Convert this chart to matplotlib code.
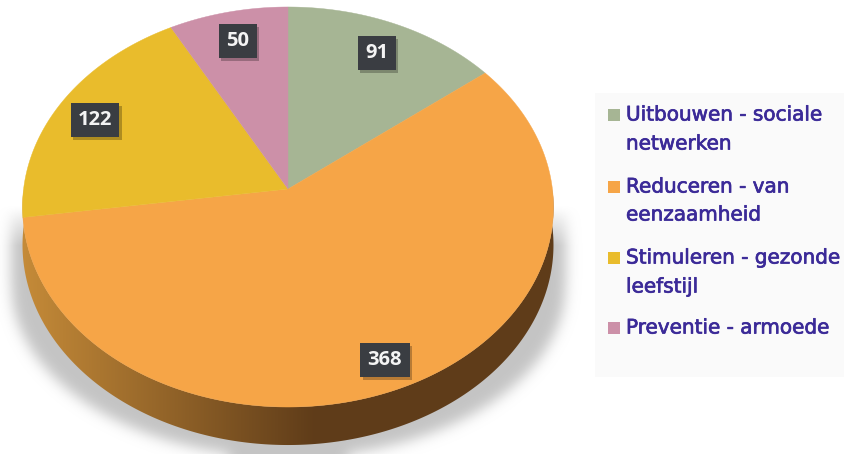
import numpy as np
import matplotlib
matplotlib.use("Agg")
import matplotlib.pyplot as plt
import matplotlib.patheffects as pe
from matplotlib.patches import PathPatch, Rectangle
from matplotlib.path import Path

categories = ["Uitbouwen - sociale\nnetwerken", "Reduceren - van\neenzaamheid",
              "Stimuleren - gezonde\nleefstijl", "Preventie - armoede"]
values = [91, 368, 122, 50]
colors = ["#a6b594", "#f6a547", "#e9bc2c", "#cc90a8"]

W, H = 845, 454
APEX_X, APEX_Y = 288, 189
K, A, B = 0.09, 264.4, 198.4
DEPTH = 38

fig = plt.figure(figsize=(W / 100, H / 100), dpi=100)
ax = fig.add_axes([0, 0, 1, 1])
ax.set_xlim(0, W)
ax.set_ylim(H, 0)
ax.axis("off")


def project(theta):
    """Clockwise angle from the top of the pie to a point on the tilted rim."""
    x, y = np.sin(theta), np.cos(theta)
    d = 1 + K * y
    return APEX_X + A * x / d, APEX_Y - B * y / d


def blur(a, sigma):
    r = int(3 * sigma)
    g = np.exp(-0.5 * (np.arange(-r, r + 1) / sigma) ** 2)
    g /= g.sum()
    p = np.pad(a, r, mode="edge")
    p = np.apply_along_axis(lambda v: np.convolve(v, g, mode="same"), 0, p)
    p = np.apply_along_axis(lambda v: np.convolve(v, g, mode="same"), 1, p)
    return p[r:-r, r:-r]


# soft shadow behind the pie
yy, xx = np.mgrid[0:H, 0:W]
below = np.maximum(yy - 285, 0)
mask = (((xx - 288) / 277.0) ** 2 + (below / 172.0) ** 2 <= 1).astype(float)
mask *= (yy > 205)
shade = blur(mask, 6.5) * np.clip((yy - 205) / 40.0, 0, 1)
rgba = np.zeros((H, W, 4))
rgba[..., :3] = 0.77
rgba[..., 3] = shade
ax.imshow(rgba, extent=(0, W, H, 0), zorder=1, aspect="auto", interpolation="bilinear")

# rim: the outline of the pie pushed down, filled with a brown gradient
ang = np.linspace(np.pi / 2, 3 * np.pi / 2, 361)
rx, ry = project(ang)
side = np.column_stack([np.r_[rx, rx[::-1]], np.r_[ry, ry[::-1] + DEPTH]])
side_patch = PathPatch(Path(np.vstack([side, side[0]]), closed=True), fc="none", ec="none", zorder=2)
ax.add_patch(side_patch)
left, mid = np.array([0xc4, 0x8a, 0x38]) / 255, np.array([0x5f, 0x3c, 0x19]) / 255
f = np.clip((np.arange(W) - 25) / 290.0, 0, 1)[None, :, None]
grad = np.concatenate([left[None, None, :] * (1 - f) + mid[None, None, :] * f,
                       np.ones((1, W, 1))], axis=2)
im = ax.imshow(grad, extent=(0, W, H, 0), zorder=2, aspect="auto")
im.set_clip_path(side_patch)

# top of the pie
edges = np.r_[0, np.cumsum(values)] / np.sum(values) * 2 * np.pi
for a0, a1, c in zip(edges[:-1], edges[1:], colors):
    s = np.linspace(a0, a1, 300)
    px, py = project(s)
    ax.fill(np.r_[APEX_X, px], np.r_[APEX_Y, py], fc=c, ec=c, lw=0.3, zorder=3)

# value labels
label_xy = [(377, 53), (385, 360), (95, 120), (238, 41)]
for v, (lx, ly) in zip(values, label_xy):
    tx = ax.text(lx, ly, str(v), color="#f4f4f4", fontsize=14.5, fontweight="bold",
                 family="Open Sans", ha="center", va="center", zorder=5,
                 bbox=dict(boxstyle="square,pad=0.36", fc="#3a3d42", ec="none"))
    tx.get_bbox_patch().set_path_effects([
        pe.SimplePatchShadow(offset=(1.5, -2), shadow_rgbFace="#000000", alpha=0.25), pe.Normal()])

# legend
ax.add_patch(Rectangle((595, 93), 250, 284, fc="#fafafa", ec="none", zorder=1))
legend_y = [(115, 144), (187, 215), (258, 287), (328,)]
for name, c, ys in zip(categories, colors, legend_y):
    ax.add_patch(Rectangle((608, ys[0] - 6.5), 12, 12.5, fc=c, ec="none", zorder=2))
    for line, y in zip(name.split("\n"), ys):
        tl = ax.text(626, y, line, color="#3b2a98", fontsize=14.4,
                     family="DejaVu Sans", ha="left", va="center", zorder=3)
        tl.set_path_effects([pe.withStroke(linewidth=0.5, foreground="#3b2a98")])

fig.savefig("out.png", dpi=100)
